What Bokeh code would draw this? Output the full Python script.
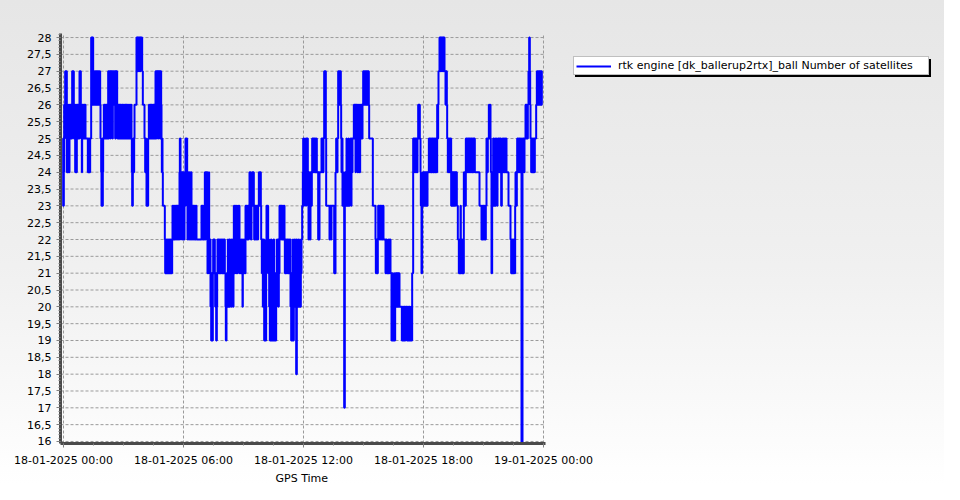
from datetime import datetime, timedelta
import pandas as pd
from bokeh.plotting import figure
from bokeh.models import FixedTicker, Legend, LegendItem, Range1d, ColumnDataSource, Title
from bokeh.embed import file_html
from bokeh.resources import INLINE

BASE = datetime(2025, 1, 18, 0, 0)

# (minutes after 18-01-2025 00:00, number of satellites) at each change
sat_changes = [
    (-2,25),(-1,23),(1,24),(2,26),(3,25),(4,26),(5,27),(8,26),(9,27),(10,24),(11,26),(12,24),(13,25),(14,24),(15,26),(16,25),(17,24),(18,26),(19,25),(20,26),(21,25),(22,26),(24,25),
    (26,27),(28,26),(29,27),(31,25),(32,26),(33,25),(34,26),(35,24),(36,25),(37,26),(38,24),(40,26),(41,25),(42,26),(43,25),(44,26),(46,25),
    (48,27),(50,26),(51,27),(52,26),(53,25),(54,26),(55,24),(56,26),(57,25),(58,26),(60,25),(62,26),(64,25),(65,26),
    (66,25),(73,24),(74,25),(75,24),(77,25),(78,24),(80,25),
    (83,28),(86,26),(87,28),(89,26),(90,27),(92,26),(93,27),(95,26),(96,27),(98,26),(99,27),(101,26),(102,27),(104,26),(105,27),(107,26),(108,27),(110,26),(111,25),
    (113,24),(114,23),(116,25),(117,23),(118,24),(119,25),(121,26),
    (122,25),(123,26),(124,25),(126,26),(127,25),(128,26),(130,25),(131,26),(133,25),
    (134,27),(136,25),(137,27),(138,26),(139,27),(141,25),(142,26),(143,27),(145,26),(146,27),(147,25),(148,27),(150,26),(151,27),(153,26),(154,27),(155,25),(157,27),(158,26),(160,27),(161,26),
    (162,25),(164,26),(166,25),(167,26),(169,25),(170,26),(173,25),(175,26),(177,25),(178,26),(180,25),(182,26),(183,25),(185,26),(187,25),(188,26),(190,25),(192,26),(194,25),(196,26),(197,25),(199,26),(201,25),(203,26),(204,25),
    (205,24),(206,23),(208,24),(209,25),(210,24),(212,25),(213,26),
    (219,28),(222,27),(223,28),(226,27),(227,28),(230,27),(231,28),(236,27),
    (238,26),(243,25),(245,24),(246,25),(248,24),(249,23),(251,24),(252,23),(254,25),(256,26),(257,25),(259,26),(260,25),
    (261,26),(263,25),(264,26),(266,25),(268,26),(270,25),(271,26),(273,25),(275,26),
    (276,27),(278,25),(279,27),(280,26),(282,27),(283,25),(285,27),(286,26),(288,27),(289,25),(291,27),(293,26),
    (294,25),(295,24),(296,25),(297,24),(298,23),
    (304,22),(305,21),(306,22),(307,21),(309,22),(310,21),(312,22),(313,21),(315,22),(316,21),(318,22),(319,21),(321,22),(322,21),(324,22),(325,21),
    (326,22),(327,23),(328,22),(330,23),(331,22),(333,23),(334,22),(336,23),(338,22),(339,23),(341,22),(342,23),(344,22),(345,23),(347,22),(348,24),(349,25),(351,24),
    (352,22),(353,24),(355,23),(356,24),(357,22),(359,24),(360,23),(361,22),(363,24),(364,23),(366,25),(368,24),(369,25),(371,23),(372,22),(374,24),(375,23),(377,22),(378,24),(380,22),(381,23),(383,24),(384,22),(386,23),(388,22),(389,23),(391,22),(393,23),(395,22),(397,23),(399,22),
    (414,23),(416,22),(417,23),(419,22),(421,23),(423,22),(424,24),(426,22),(427,24),(429,23),(430,24),(432,21),(433,22),(435,21),(436,24),(437,22),(439,21),(440,22),(441,20),(443,19),(445,21),(446,19),(448,21),(449,22),(451,21),(452,22),(454,21),
    (455,20),(456,21),(458,19),(460,20),(461,21),
    (462,22),(464,21),(465,22),(467,21),(469,22),(470,21),(472,22),(474,21),(476,22),(477,21),(479,22),(480,21),(482,22),(484,21),
    (486,20),(487,19),(489,21),(491,20),(493,22),
    (494,21),(496,20),(497,22),(499,20),(500,21),(502,22),(504,20),(505,21),(507,22),(509,20),(510,21),
    (511,23),(513,21),(514,22),(516,23),(517,21),(519,23),(520,22),(522,21),(523,23),(525,22),(527,23),(528,21),
    (529,22),(531,21),(533,22),(534,21),(536,22),(537,20),(538,21),(540,22),(541,21),(543,22),(545,21),
    (546,23),(548,22),(549,23),(551,22),(553,23),(555,22),(556,23),(558,24),(560,23),(561,24),(562,22),(564,23),(566,24),(568,23),(569,24),(571,23),(572,22),
    (574,23),(576,22),(577,23),(579,22),(581,23),(583,22),(584,23),
    (586,24),(589,23),(590,24),(592,23),(593,22),
    (595,21),(596,22),(598,20),(599,21),(600,22),(602,19),(604,20),(605,21),(607,19),(608,22),
    (609,23),(611,22),(612,23),(614,21),
    (615,22),(617,20),(618,21),(619,19),(621,20),(622,22),(624,19),(626,21),(627,20),(629,19),(630,22),(632,20),(633,19),(635,21),(636,19),(638,20),(640,22),(641,21),(643,22),(645,20),(646,21),
    (648,23),(650,22),(651,23),(653,22),(654,23),(656,22),(658,23),(659,22),(661,23),(663,22),
    (664,21),(666,22),(667,21),(669,22),(671,21),(672,22),(674,21),(676,22),(677,21),(679,22),
    (681,20),(683,19),(685,21),(686,19),(688,22),(689,19),(691,20),(693,22),(694,21),(696,20),(697,22),
    (698,18),(700,22),
    (701,21),(702,20),(704,21),(705,22),(707,20),(708,21),(710,20),(712,22),(713,21),
    (714,22),(716,23),
    (718,24),(719,25),(721,23),(722,24),(724,25),(725,24),(727,23),(728,25),(730,24),(731,25),(733,24),
    (734,23),(735,22),(737,24),(738,23),(740,22),(741,24),(743,23),(745,24),
    (746,25),(748,24),(749,25),(751,24),(752,25),(754,24),(756,25),(757,24),(759,25),(760,24),
    (764,22),(766,24),(767,22),(768,24),
    (774,25),(776,24),(777,25),(779,24),(780,25),
    (782,27),(784,26),(785,27),(787,25),
    (788,23),(798,22),(800,23),(803,22),(804,23),(812,21),(814,23),(815,21),
    (816,24),(818,25),(820,24),(822,25),
    (824,27),(826,26),(827,27),(829,26),(830,27),(832,26),(833,25),
    (834,24),(835,25),(837,23),(838,24),(840,23),
    (842,17),(844,24),
    (846,23),(847,24),(849,25),(850,23),(852,24),(853,23),(855,25),(856,24),(858,23),(859,24),(861,25),(862,24),(863,23),
    (864,25),(866,24),(867,25),
    (871,26),(873,25),(874,26),(876,24),(877,26),(879,25),(880,26),(882,24),(884,26),(885,25),(887,26),(888,24),(890,25),
    (891,26),(893,25),(894,26),(896,25),(897,26),
    (899,27),(901,26),(902,27),(904,26),(905,27),(907,26),(908,27),(910,26),(911,27),(913,26),(914,27),
    (916,26),(917,25),
    (928,23),
    (936,22),(937,21),(939,22),(941,21),(943,22),(944,23),
    (948,22),(950,23),(952,22),(954,23),(956,22),(958,23),(960,22),
    (966,21),(968,22),(970,21),(974,22),(975,21),(978,22),
    (981,21),(984,19),(986,21),(987,20),(989,19),(991,21),(993,19),(995,20),
    (996,21),(998,20),(1000,21),(1003,20),(1005,21),(1008,20),
    (1015,19),(1017,20),(1020,19),(1022,20),(1024,19),(1026,20),(1030,19),(1032,20),(1035,19),(1037,20),(1040,19),(1043,20),(1045,19),
    (1046,21),(1049,25),
    (1051,24),(1052,25),(1054,24),(1055,25),(1057,24),(1058,25),(1060,24),(1062,25),(1064,26),(1066,25),(1067,26),(1069,25),
    (1071,24),(1072,23),(1074,21),(1076,23),(1078,24),(1080,23),(1081,24),(1083,23),(1085,24),(1087,23),(1088,24),(1090,23),(1092,24),
    (1096,25),(1098,24),(1099,25),(1101,24),(1103,25),(1104,24),(1106,25),(1108,24),(1110,25),(1111,24),(1113,25),(1115,24),(1117,25),(1119,24),
    (1121,26),(1123,25),(1124,26),(1125,27),
    (1128,28),(1131,27),(1132,28),(1135,27),(1136,28),(1139,27),(1140,28),(1143,27),
    (1146,26),(1148,27),(1150,26),
    (1151,25),(1153,24),(1154,25),(1156,24),(1158,25),(1160,24),(1161,25),(1163,23),(1165,24),(1166,23),(1168,24),(1170,23),(1172,24),(1174,23),
    (1176,24),(1180,23),(1183,22),
    (1186,21),(1188,22),(1189,21),(1191,23),(1192,21),(1194,22),(1196,21),(1198,22),(1199,21),(1201,24),(1203,23),(1204,24),(1206,23),
    (1207,25),(1209,24),(1210,25),(1212,24),(1214,25),(1216,24),(1217,25),(1219,24),(1221,25),(1223,24),(1224,25),(1226,24),(1228,25),(1230,24),(1231,25),
    (1234,24),(1248,23),
    (1254,22),(1256,23),(1257,22),(1259,23),(1261,22),(1263,23),(1265,22),(1267,23),
    (1269,25),(1272,24),(1273,25),(1276,26),(1278,25),(1280,26),
    (1281,25),(1282,24),(1284,21),(1286,24),(1288,23),(1289,25),(1291,24),(1292,23),(1294,25),(1296,23),(1297,24),(1299,25),(1301,23),(1302,24),(1304,25),
    (1306,24),(1308,25),(1310,24),(1311,25),(1313,23),(1315,24),(1317,25),(1318,24),(1320,25),(1322,24),(1324,25),(1326,24),(1328,25),(1329,24),
    (1335,23),
    (1341,22),(1343,21),(1345,22),(1346,21),(1348,22),(1349,21),(1351,22),(1353,21),(1355,23),
    (1356,24),(1358,23),(1360,24),(1361,25),(1363,24),(1365,25),(1367,24),(1368,25),(1370,24),(1372,25),
    (1374,16),(1377,25),
    (1382,24),(1383,25),
    (1386,26),(1388,25),(1389,26),(1391,25),(1393,26),(1395,27),
    (1397,28),(1399,27),(1400,26),
    (1401,25),(1403,24),(1404,25),(1406,24),(1408,25),(1409,24),(1411,25),(1413,24),
    (1414,25),(1418,26),(1420,27),(1422,26),(1423,27),(1425,26),(1426,27),(1428,26),(1430,27),(1432,26),(1433,27),(1435,26),(1436,26),
]

series_label = "rtk engine [dk_ballerup2rtx]_ball Number of satellites"
x_axis_title = "GPS Time"

x_tick_times = ["2025-01-18 00:00", "2025-01-18 06:00", "2025-01-18 12:00",
                "2025-01-18 18:00", "2025-01-19 00:00"]
x_tick_labels = ["18-01-2025 00:00", "18-01-2025 06:00", "18-01-2025 12:00",
                 "18-01-2025 18:00", "19-01-2025 00:00"]

y_ticks = [16, 16.5, 17, 17.5, 18, 18.5, 19, 19.5, 20, 20.5, 21, 21.5, 22,
           22.5, 23, 23.5, 24, 24.5, 25, 25.5, 26, 26.5, 27, 27.5, 28]
y_tick_labels = ["16", "16,5", "17", "17,5", "18", "18,5", "19", "19,5", "20",
                 "20,5", "21", "21,5", "22", "22,5", "23", "23,5", "24", "24,5",
                 "25", "25,5", "26", "26,5", "27", "27,5", "28"]


def to_ms(dt):
    return pd.Timestamp(dt).value // 10**6


times = [BASE + timedelta(minutes=m) for m, _ in sat_changes]
sats = [v for _, v in sat_changes]
source = ColumnDataSource(data=dict(t=times, v=sats))

# the frame spans the whole width (so the legend can sit inside it);
# the visible chart area ends at x_data_end
x_start = to_ms(BASE - timedelta(minutes=9))
x_data_end = to_ms(BASE + timedelta(minutes=1446))
x_end = to_ms(BASE + timedelta(minutes=2616))
y_start, y_end = 15.94, 28.12

p = figure(width=944, height=484, x_axis_type="datetime",
           output_backend="svg", toolbar_location=None,
           x_range=Range1d(x_start, x_end), y_range=Range1d(y_start, y_end),
           min_border_left=60, min_border_right=9,
           min_border_top=33, min_border_bottom=41)

p.background_fill_color = None
p.border_fill_color = None
p.outline_line_color = None
p.styles = {"background": "linear-gradient(to bottom, #e6e6e6 0%, #f0f0f0 55%, #ffffff 100%)"}

# axes
x_ticks_ms = [to_ms(t) for t in x_tick_times]
x_minor = [to_ms(BASE + timedelta(minutes=90 * k)) for k in range(-1, 17)]
p.xaxis.ticker = FixedTicker(ticks=x_ticks_ms, minor_ticks=x_minor)
p.xaxis.major_label_overrides = dict(zip(x_ticks_ms, x_tick_labels))
p.xaxis.bounds = (x_start, x_data_end)

y_minor = [round(15.9 + 0.1 * k, 1) for k in range(123)]
p.yaxis.ticker = FixedTicker(ticks=y_ticks, minor_ticks=y_minor)
p.yaxis.major_label_overrides = dict(zip(y_ticks, y_tick_labels))

for ax in (p.xaxis[0], p.yaxis[0]):
    ax.axis_line_color = "#4a4a4a"
    ax.axis_line_width = 3
    ax.major_tick_line_color = "#808080"
    ax.minor_tick_line_color = "#808080"
    ax.major_tick_out = 4
    ax.major_tick_in = 0
    ax.minor_tick_out = 2
    ax.minor_tick_in = 0
    ax.major_label_text_font = "DejaVu Sans"
    ax.major_label_text_font_size = "11px"
    ax.major_label_text_color = "#000000"

p.yaxis.major_label_standoff = 5
p.xaxis.major_label_standoff = 6

# axis title, centred under the visible chart area
p.add_layout(Title(text=x_axis_title, align="left", offset=215, standoff=0,
                   text_font="DejaVu Sans", text_font_size="11px",
                   text_font_style="normal", text_color="#000000",
                   text_line_height=0.9), "below")

GRID_COLOR = "#9a9a9a"
GRID_DASH = "3 2"
p.xgrid.grid_line_color = GRID_COLOR
p.xgrid.grid_line_dash = GRID_DASH
p.ygrid.grid_line_color = None
# horizontal grid lines limited to the chart area
p.segment(x0=[x_start] * len(y_ticks), x1=[x_data_end] * len(y_ticks),
          y0=y_ticks, y1=y_ticks, line_color=GRID_COLOR, line_dash=GRID_DASH,
          line_width=1)

r = p.step(x="t", y="v", source=source, mode="after",
           line_color="#0000ff", line_width=2)

# legend with drop shadow (location = bottom-left corner, px from frame bottom-left)
def make_legend(shadow):
    leg = Legend(items=[LegendItem(label=series_label, renderers=[r])],
                 location=(515, 366) if shadow else (513, 368))
    leg.label_text_font = "DejaVu Sans"
    leg.label_text_font_size = "11px"
    leg.label_height = 12
    leg.label_width = 308
    leg.glyph_height = 12
    leg.glyph_width = 35
    leg.label_standoff = 7
    leg.padding = 2
    leg.margin = 0
    leg.spacing = 0
    leg.border_line_width = 1
    leg.label_text_color = "#000000"
    leg.background_fill_alpha = 1
    if shadow:
        # same box size (label_width / label_height are minimums), no visible text
        leg.label_text_font_size = "1px"
        leg.label_text_alpha = 0
        leg.background_fill_color = "#000000"
        leg.border_line_color = "#000000"
    else:
        leg.background_fill_color = "#ffffff"
        leg.border_line_color = "#808080"
    return leg

p.add_layout(make_legend(True), "center")
p.add_layout(make_legend(False), "center")

open("out.html", "w").write(file_html(p, INLINE))
